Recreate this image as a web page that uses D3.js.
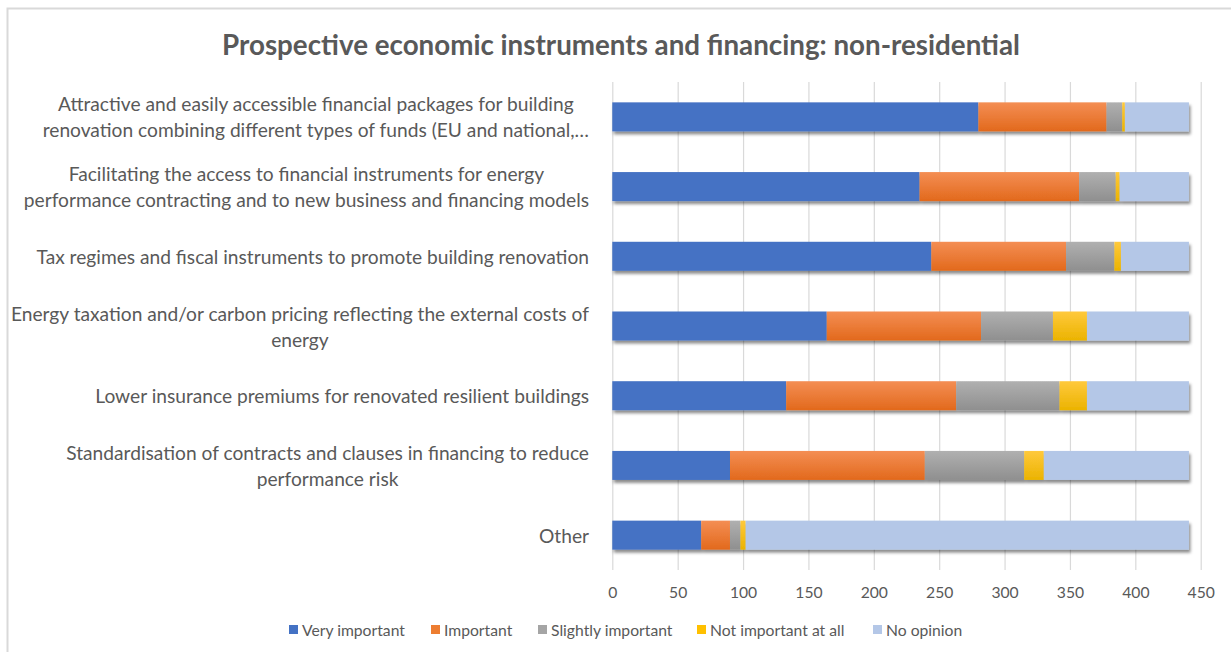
<!DOCTYPE html>
<html>
<head>
<meta charset="utf-8">
<script src="https://cdn.jsdelivr.net/npm/d3@7"></script>
<style>
  html, body { margin: 0; padding: 0; background: #ffffff; }
  svg { display: block; }
  text { font-family: Lato, "Open Sans", sans-serif; fill: #595959; }
</style>
</head>
<body>
<svg id="chart" width="1231" height="652"></svg>
<script>
// Survey answers per instrument (number of respondents)
const categories = [
  "Attractive and easily accessible financial packages for building\nrenovation combining different types of funds (EU and national,…",
  "Facilitating the access to financial instruments for energy\nperformance contracting and to new business and financing models",
  "Tax regimes and fiscal instruments to promote building renovation",
  "Energy taxation and/or carbon pricing reflecting the external costs of\nenergy",
  "Lower insurance premiums for renovated resilient buildings",
  "Standardisation of contracts and clauses in financing to reduce\nperformance risk",
  "Other"
];
const seriesNames = ["Very important", "Important", "Slightly important", "Not important at all", "No opinion"];
const veryImportant     = [280, 235, 244, 164, 133,  90,  68];
const important         = [ 98, 122, 103, 118, 130, 149,  22];
const slightlyImportant = [ 12,  28,  37,  55,  79,  76,   8];
const notImportant      = [  2,   3,   5,  26,  21,  15,   4];
const noOpinion         = [ 49,  53,  52,  78,  78, 111, 339];
const xTicks = [0, 50, 100, 150, 200, 250, 300, 350, 400, 450];
const title = "Prospective economic instruments and financing: non-residential";

const keys = ["very", "imp", "slight", "notimp", "none"];
const rows = categories.map((c, i) => ({
  category: c,
  very: veryImportant[i],
  imp: important[i],
  slight: slightlyImportant[i],
  notimp: notImportant[i],
  none: noOpinion[i]
}));

const colors = {
  very:   { flat: "#4472C4" },
  imp:    { top: "#F48E54", bottom: "#E2691C", flat: "#ED7D31" },
  slight: { top: "#B0B0B0", bottom: "#8F8F8F", flat: "#A5A5A5" },
  notimp: { top: "#FFC93C", bottom: "#EBB300", flat: "#FFC000" },
  none:   { flat: "#B4C7E7" }
};

const svg = d3.select("#chart");
const defs = svg.append("defs");

// vertical shading for the middle segments
keys.forEach(k => {
  if (!colors[k].top) return;
  const g = defs.append("linearGradient").attr("id", "grad-" + k)
    .attr("x1", 0).attr("y1", 0).attr("x2", 0).attr("y2", 1);
  g.append("stop").attr("offset", "0%").attr("stop-color", colors[k].top);
  g.append("stop").attr("offset", "100%").attr("stop-color", colors[k].bottom);
});
const fillOf = k => colors[k].top ? `url(#grad-${k})` : colors[k].flat;

// soft drop shadow under each bar
const shadow = defs.append("filter").attr("id", "barShadow")
  .attr("x", "-5%").attr("y", "-30%").attr("width", "110%").attr("height", "170%");
shadow.append("feDropShadow").attr("dx", 1.5).attr("dy", 3).attr("stdDeviation", 1.8)
  .attr("flood-color", "#000").attr("flood-opacity", 0.45);

// chart frame
svg.append("rect").attr("x", 7.5).attr("y", 8.5).attr("width", 1240).attr("height", 660)
  .attr("fill", "none").attr("stroke", "#D9D9D9").attr("stroke-width", 2);

// fit a font size so a reference string spans a given width
function fitSize(str, target, weight) {
  const t = svg.append("text").attr("font-size", 100).attr("font-weight", weight || "normal").text(str);
  const w = t.node().getComputedTextLength();
  t.remove();
  return 100 * target / w;
}
const titleSize = fitSize(title, 798, "bold");
const catSize = fitSize(categories[2], 553);
const legendSize = fitSize("Very important", 103);
const tickSize = legendSize;

const plot = { left: 612.3, right: 1200.7, top: 82, bottom: 570 };

const x = d3.scaleLinear().domain([0, 450]).range([plot.left, plot.right]);
const y = d3.scaleBand().domain(categories).range([plot.top, plot.bottom])
  .paddingInner(0.584).paddingOuter(0.292);

// title
svg.append("text")
  .attr("x", 621).attr("y", 44)
  .attr("text-anchor", "middle").attr("dominant-baseline", "central")
  .attr("font-weight", "bold").attr("font-size", titleSize)
  .text(title);

// vertical gridlines
svg.append("g").attr("class", "grid")
  .attr("transform", `translate(0,${plot.bottom})`)
  .call(d3.axisBottom(x).tickValues(xTicks).tickSize(-(plot.bottom - plot.top)).tickFormat(""))
  .call(g => g.select(".domain").remove())
  .call(g => g.selectAll("line").attr("stroke", "#D9D9D9").attr("stroke-width", 1.2));

// x tick labels
svg.append("g")
  .attr("transform", `translate(0,${plot.bottom})`)
  .call(d3.axisBottom(x).tickValues(xTicks).tickSize(0).tickPadding(0).tickFormat(d3.format("d")))
  .call(g => g.select(".domain").remove())
  .call(g => g.selectAll("text")
    .attr("y", 22).attr("dy", null).attr("dominant-baseline", "central")
    .attr("font-size", tickSize).attr("font-family", null).attr("fill", "#595959"));

// stacked bars
const stacked = d3.stack().keys(keys)(rows);
const layer = svg.append("g").attr("class", "bars");
rows.forEach((row, i) => {
  const g = layer.append("g").attr("filter", "url(#barShadow)");
  stacked.forEach(s => {
    const d = s[i];
    g.append("rect")
      .attr("x", x(d[0]))
      .attr("y", y(row.category))
      .attr("width", Math.max(0, x(d[1]) - x(d[0])))
      .attr("height", y.bandwidth())
      .attr("fill", fillOf(s.key));
  });
});

// category labels: wrapped lines centred on one another, block right-aligned
const lineGap = 26;
const labelRight = 589;
const catG = svg.append("g").attr("font-size", catSize);
categories.forEach(c => {
  const lines = c.split("\n");
  const cy = y(c) + y.bandwidth() / 2;
  const t = catG.append("text").attr("text-anchor", "middle");
  lines.forEach((ln, j) => {
    t.append("tspan").attr("x", 0)
      .attr("y", cy + (j - (lines.length - 1) / 2) * lineGap)
      .attr("dominant-baseline", "central")
      .text(ln);
  });
  const w = t.node().getBBox().width;
  t.selectAll("tspan").attr("x", labelRight - w / 2);
});

// legend
const legendItems = [
  { key: "very", x: 289 },
  { key: "imp", x: 431 },
  { key: "slight", x: 538 },
  { key: "notimp", x: 697 },
  { key: "none", x: 873 }
];
const lg = svg.append("g").attr("class", "legend");
legendItems.forEach((it, i) => {
  lg.append("rect").attr("x", it.x).attr("y", 625).attr("width", 9).attr("height", 9)
    .attr("fill", colors[it.key].flat);
  lg.append("text").attr("x", it.x + 13).attr("y", 630)
    .attr("dominant-baseline", "central").attr("font-size", legendSize)
    .text(seriesNames[i]);
});
</script>
</body>
</html>
